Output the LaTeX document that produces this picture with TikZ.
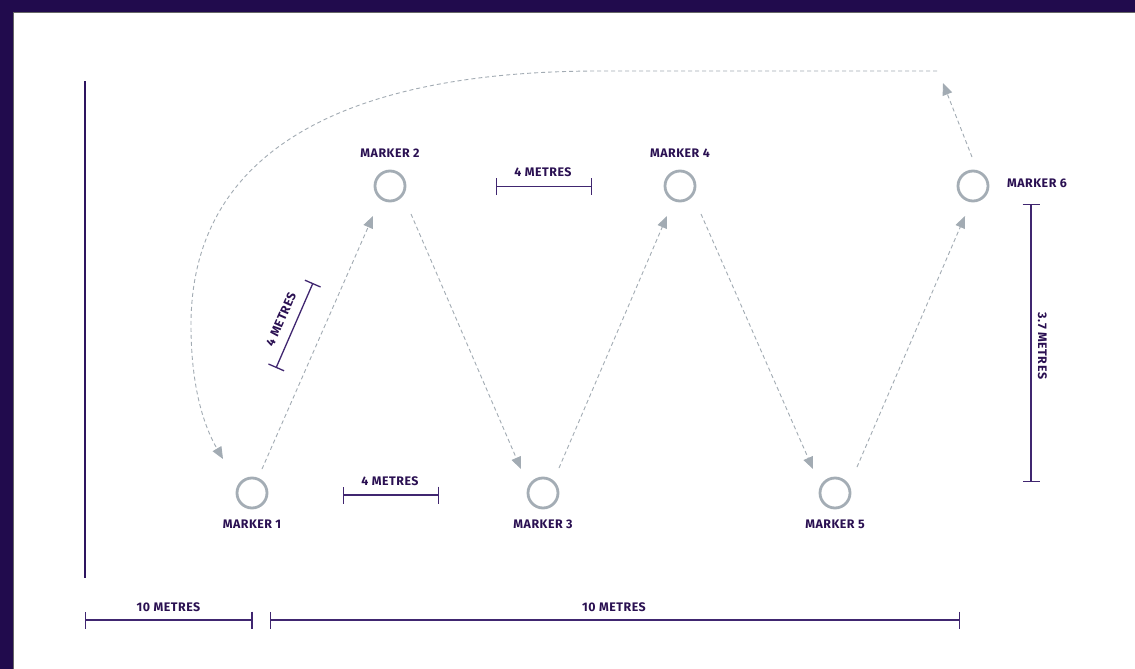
\documentclass[tikz,border=0pt]{standalone}
\usepackage{fontspec}
\setmainfont{Fira Sans}
\newfontfamily\labfont{Fira Sans}[LetterSpace=4.0]
\usetikzlibrary{arrows.meta,calc}
\definecolor{frame}{HTML}{210B4D}
\definecolor{ink}{HTML}{2A1052}
\definecolor{dim}{HTML}{402670}
\definecolor{axis}{HTML}{2E1560}
\definecolor{mark}{HTML}{A4ADB5}
\definecolor{flowc}{HTML}{A2ABB3}
\tikzset{
  marker/.style={circle, draw=mark, line width=2.8pt, minimum size=30pt, inner sep=0pt},
  lbl/.style={text=ink, font=\labfont\bfseries\fontsize{12.4}{13}\selectfont, inner sep=0pt},
  flow/.style={draw=flowc, line width=0.9pt, dash pattern=on 4pt off 3pt, -{Triangle[length=12pt,width=10pt]}},
  dimline/.style={draw=dim, line width=1.3pt, {Bar[width=17pt]}-{Bar[width=17pt]}},
}
\begin{document}
\begin{tikzpicture}[x=1pt,y=-1pt]
\useasboundingbox (0,0) rectangle (1135,669);
\fill[white] (0,0) rectangle (1135,669);
% frame
\fill[frame] (0,0) rectangle (1135,12.5);
\fill[frame] (0,0) rectangle (13,669);
\draw[black!60, line width=0.8pt] (13.2,669) -- (13.2,12.8) -- (1135,12.8);
% left axis
\coordinate (ax1) at (85,81);
\coordinate (ax2) at (85,578);
\draw[axis, line width=2pt] (ax1) -- (ax2);
% markers
\node[marker] (m1) at (252,493) {};
\node[marker] (m2) at (390,186) {};
\node[marker] (m3) at (543,493) {};
\node[marker] (m4) at (680,186) {};
\node[marker] (m5) at (835,493) {};
\node[marker] (m6) at (973,186) {};
\node[lbl] (l1) at (252,524.5) {MARKER 1};
\node[lbl] (l2) at (390,153) {MARKER 2};
\node[lbl] (l3) at (543,524.5) {MARKER 3};
\node[lbl] (l4) at (680,153) {MARKER 4};
\node[lbl] (l5) at (835,524.5) {MARKER 5};
\node[lbl] (l6) at (1037,183.5) {MARKER 6};
% flows
\draw[flow] ($(m1)+(10,-24)$) -- ($(m2)+(-17,30)$);
\draw[flow] ($(m2)+(21,28)$) -- ($(m3)+(-22,-24)$);
\draw[flow] ($(m3)+(16,-25)$) -- ($(m4)+(-13,30)$);
\draw[flow] ($(m4)+(21,28)$) -- ($(m5)+(-22,-24)$);
\draw[flow] ($(m5)+(22,-26)$) -- ($(m6)+(-8,30)$);
\coordinate (up) at (943,83);
\draw[flow] ($(m6)+(-1,-29)$) -- (up);
\coordinate (c0) at (937,71);
\coordinate (c1) at (600,71);
\draw[flow] (c0) -- (c1) .. controls (330,71) and (191,160) .. (191,325)
  .. controls (191,390) and (205,428) .. ($(m1)+(-29,-34)$);
% dimensions
\coordinate (d1a) at (496,186.7); \coordinate (d1b) at (592,186.7);
\draw[dimline] (d1a) -- (d1b);
\node[lbl] (t1) at (543,172.5) {4 METRES};
\coordinate (d2a) at (343,495); \coordinate (d2b) at (439,495);
\draw[dimline] (d2a) -- (d2b);
\node[lbl] (t2) at (390,481) {4 METRES};
\coordinate (d3a) at (276,368); \coordinate (d3b) at (313,283);
\draw[dimline] (d3a) -- (d3b);
\node[lbl, rotate=66] (t3) at (281,319.5) {4 METRES};
\coordinate (d4a) at (1031,204); \coordinate (d4b) at (1031,482);
\draw[dimline] (d4a) -- (d4b);
\node[lbl, rotate=-90] (t4) at (1042.5,346) {3.7 METRES};
\coordinate (d5a) at (85,620); \coordinate (d5b) at (252.5,620);
\draw[dimline] (d5a) -- (d5b);
\node[lbl] (t5) at (168.5,607.5) {10 METRES};
\coordinate (d6a) at (269.5,620); \coordinate (d6b) at (960,620);
\draw[dimline] (d6a) -- (d6b);
\node[lbl] (t6) at (614,607.5) {10 METRES};
\end{tikzpicture}
\end{document}
